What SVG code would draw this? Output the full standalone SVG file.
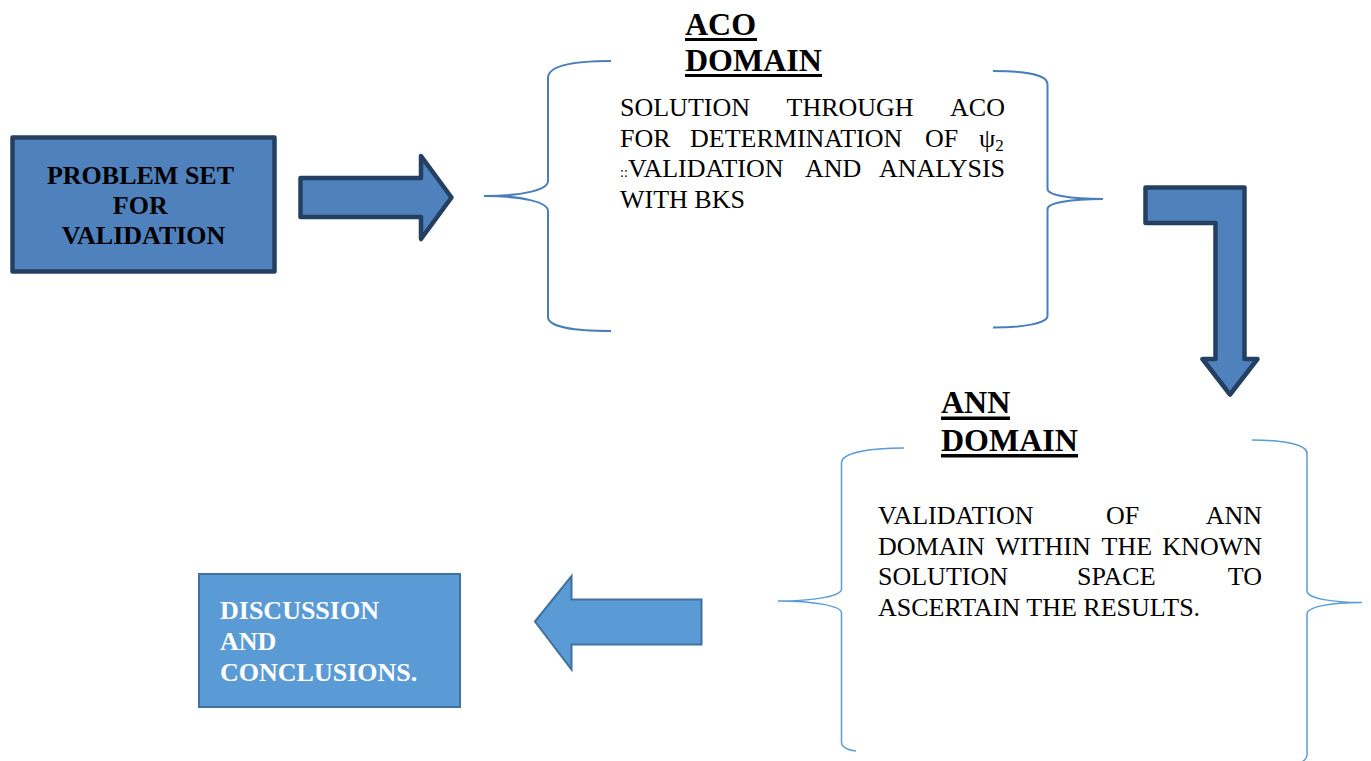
<svg xmlns="http://www.w3.org/2000/svg" width="1371" height="761" viewBox="0 0 1371 761">
  <style>
    text { font-family: 'Liberation Serif', 'Times New Roman', serif; }
    .body { font-size: 26px; fill: #000; }
    .head { font-size: 32px; font-weight: bold; fill: #000; }
    .boxlabel { font-size: 26px; font-weight: bold; }
    .dark-shape { fill: #4F81BD; stroke: #243F60; stroke-width: 4.5; stroke-linejoin: round; }
    .light-shape { fill: #5B9BD5; stroke: #41719C; stroke-width: 2; }
    .brace-aco { fill: none; stroke: #4A7EBB; stroke-width: 2; }
    .brace-ann { fill: none; stroke: #5B9BD5; stroke-width: 1.5; }
    .uline { fill: #000; }
  </style>

  <rect width="1371" height="761" fill="#ffffff"/>

  <!-- Starting block -->
  <g id="problem-set">
    <rect class="dark-shape" x="12.5" y="137.5" width="262" height="134"/>
    <text class="boxlabel" fill="#000" text-anchor="middle">
      <tspan x="143.5" y="184">PROBLEM SET</tspan>
      <tspan x="143.5" y="214">FOR</tspan>
      <tspan x="143.5" y="244">VALIDATION</tspan>
    </text>
  </g>

  <!-- ACO stage: title, bracketed description -->
  <g id="aco-domain">
    <text class="head">
      <tspan x="685" y="35">ACO</tspan>
      <tspan x="685" y="70.5">DOMAIN</tspan>
    </text>
    <rect class="uline" x="685" y="38" width="72" height="3"/>
    <rect class="uline" x="685" y="74" width="137" height="3"/>

    <path class="brace-aco" d="M611,61 C575,61 548,65 548,78 L548,181 C548,190 522,196 484,196 C522,196 548,202 548,211 L548,317 C548,327 575,331 611,331"/>
    <path class="brace-aco" d="M993,71 C1025,71 1047.5,75 1047.5,84 L1047.5,189 C1047.5,195 1070,199 1103,199 C1070,199 1047.5,203 1047.5,209 L1047.5,316 C1047.5,323 1025,327.5 993,327.5"/>

    <text class="body">
      <tspan x="620" y="116">SOLUTION</tspan>
      <tspan x="786.5" y="116">THROUGH</tspan>
      <tspan x="1005" y="116" text-anchor="end">ACO</tspan>
    </text>
    <text class="body">
      <tspan x="620" y="146.5">FOR</tspan>
      <tspan x="690" y="146.5">DETERMINATION</tspan>
      <tspan x="925" y="146.5">OF</tspan>
      <tspan x="979" y="146.5">ψ</tspan><tspan font-size="17" dy="4">2</tspan>
    </text>
    <text class="body">
      <tspan x="620" y="177" font-size="14">::</tspan>
      <tspan x="628" y="177">VALIDATION</tspan>
      <tspan x="805" y="177">AND</tspan>
      <tspan x="1005" y="177" text-anchor="end">ANALYSIS</tspan>
    </text>
    <text class="body" x="620" y="207.5">WITH BKS</text>
  </g>

  <!-- ANN stage: title, bracketed description -->
  <g id="ann-domain">
    <text class="head">
      <tspan x="941" y="413">ANN</tspan>
      <tspan x="941" y="450.5">DOMAIN</tspan>
    </text>
    <rect class="uline" x="941" y="416.5" width="69" height="3.5"/>
    <rect class="uline" x="941" y="454" width="137" height="3.5"/>

    <path class="brace-ann" d="M904,448 C868,448 841.5,453 841.5,463 L841.5,589 C841.5,596 815,601 778,601 C815,601 841.5,606 841.5,613 L841.5,742 C841.5,747 848,750 856,751"/>
    <path class="brace-ann" d="M1252,440 C1285,440 1307,445 1307,453 L1307,591 C1307,598 1330,602.5 1362,602.5 C1330,602.5 1307,607 1307,614 L1307,755 C1307,764 1285,770 1252,770"/>

    <text class="body">
      <tspan x="878" y="524">VALIDATION</tspan>
      <tspan x="1106" y="524">OF</tspan>
      <tspan x="1262" y="524" text-anchor="end">ANN</tspan>
    </text>
    <text class="body">
      <tspan x="878" y="554.5">DOMAIN</tspan>
      <tspan x="995.5" y="554.5">WITHIN</tspan>
      <tspan x="1101.5" y="554.5">THE</tspan>
      <tspan x="1262" y="554.5" text-anchor="end">KNOWN</tspan>
    </text>
    <text class="body">
      <tspan x="878" y="585">SOLUTION</tspan>
      <tspan x="1077" y="585">SPACE</tspan>
      <tspan x="1262" y="585" text-anchor="end">TO</tspan>
    </text>
    <text class="body" x="878" y="615.5">ASCERTAIN THE RESULTS.</text>
  </g>

  <!-- Final block -->
  <g id="discussion">
    <rect class="light-shape" x="199" y="574" width="261" height="133"/>
    <text class="boxlabel" fill="#ffffff">
      <tspan x="220" y="619">DISCUSSION</tspan>
      <tspan x="220" y="650">AND</tspan>
      <tspan x="220" y="681">CONCLUSIONS.</tspan>
    </text>
  </g>

  <!-- Block arrows linking the stages -->
  <g id="connectors">
    <polygon class="dark-shape" stroke-linejoin="miter" points="300.5,178 421,178 421,156 451.5,197.5 421,239 421,217 300.5,217"/>
    <polygon class="dark-shape" points="1145.5,187.5 1244.5,187.5 1244.5,359 1257.5,359 1230,394.5 1202.5,359 1215.5,359 1215.5,223 1145.5,223"/>
    <polygon class="light-shape" points="535,621.5 571.5,576 571.5,599.5 701.5,599.5 701.5,644.5 571.5,644.5 571.5,669.5"/>
  </g>
</svg>
